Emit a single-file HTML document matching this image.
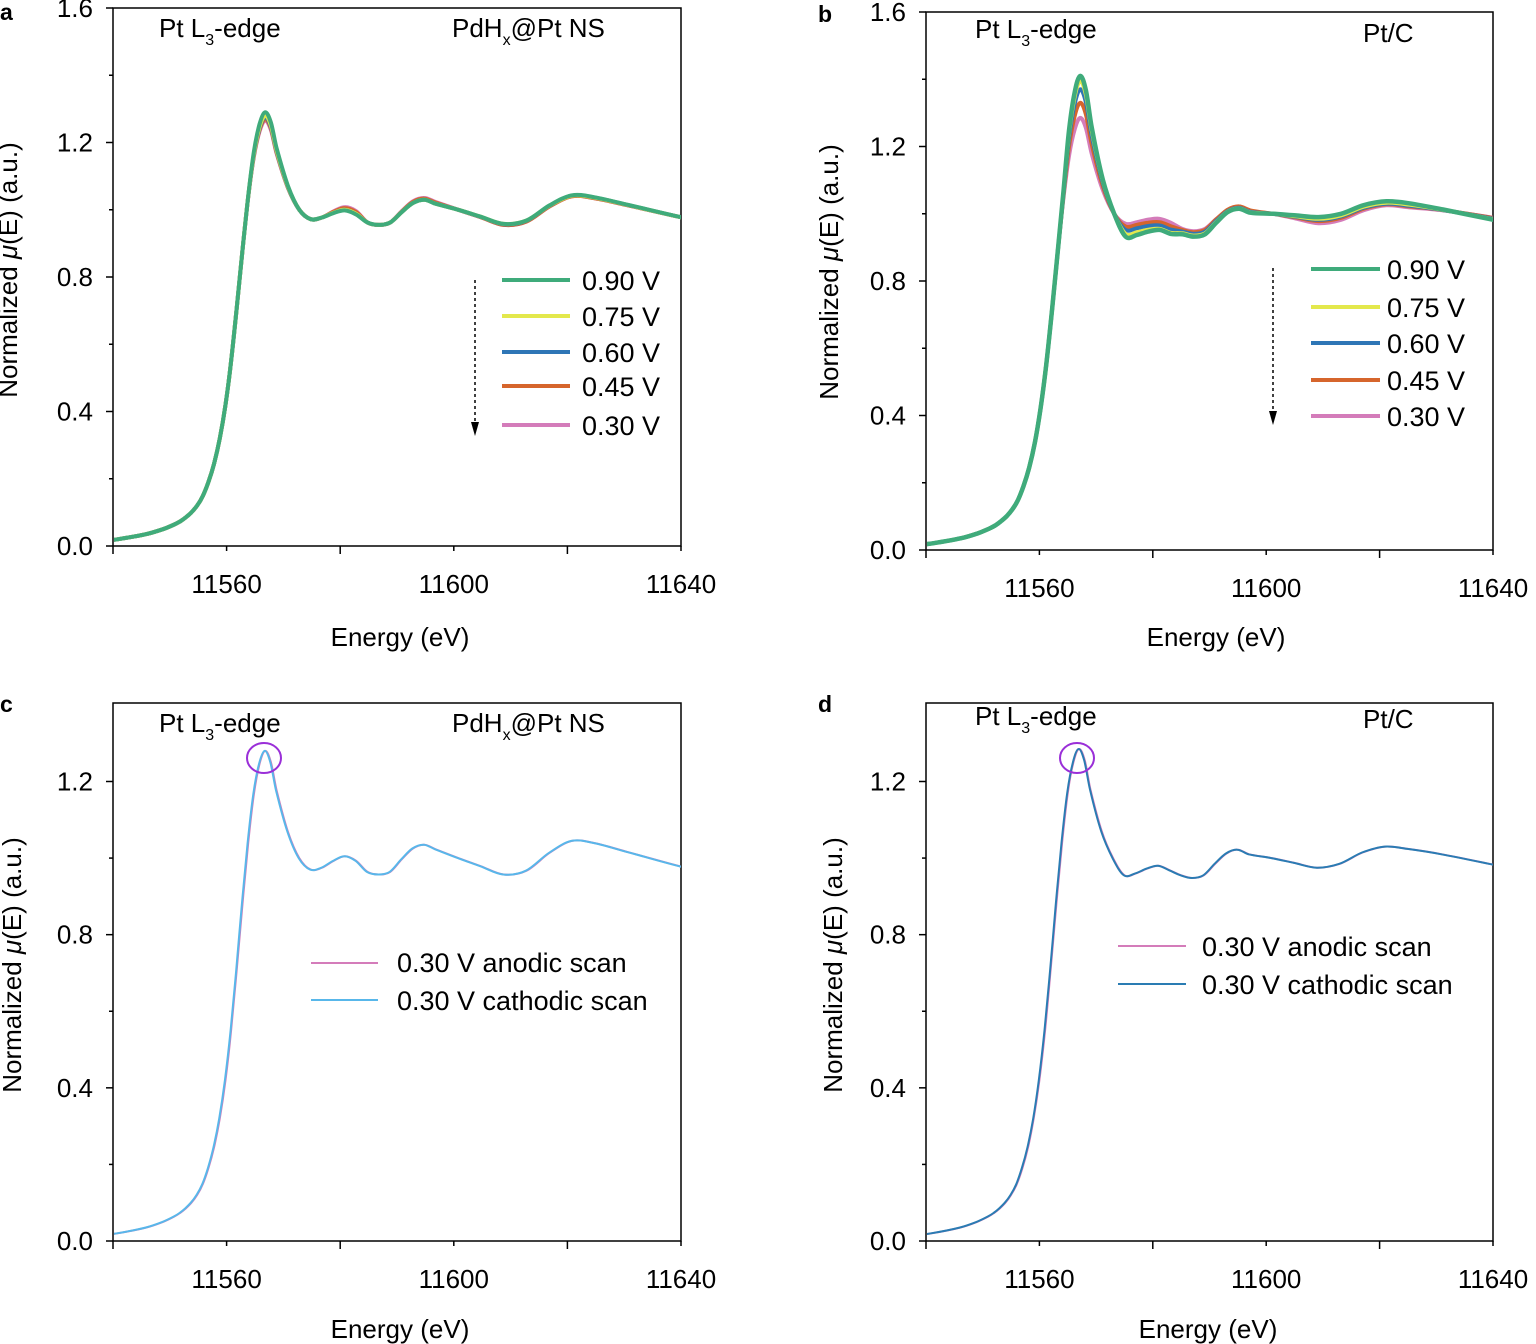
<!DOCTYPE html>
<html><head><meta charset="utf-8">
<style>
html,body{margin:0;padding:0;background:#fff;}
svg{display:block;font-family:"Liberation Sans",Arial,sans-serif;}
</style></head>
<body>
<svg id="s" width="1536" height="1344" viewBox="0 0 1536 1344" xmlns="http://www.w3.org/2000/svg">
<defs id="defs"></defs>
<g font-size="26" fill="#000">
<text x="0" y="20" font-weight="bold" font-size="23">a</text>
<text x="818" y="22" font-weight="bold" font-size="23">b</text>
<text x="0" y="712" font-weight="bold" font-size="23">c</text>
<text x="818" y="712" font-weight="bold" font-size="23">d</text>

<text x="159" y="37">Pt L<tspan font-size="16" dy="8">3</tspan><tspan dy="-8">-edge</tspan></text>
<text x="452" y="37">PdH<tspan font-size="16" dy="8">x</tspan><tspan dy="-8">@Pt NS</tspan></text>
<text x="975" y="38">Pt L<tspan font-size="16" dy="8">3</tspan><tspan dy="-8">-edge</tspan></text>
<text x="1363" y="42">Pt/C</text>
<text x="159" y="732">Pt L<tspan font-size="16" dy="8">3</tspan><tspan dy="-8">-edge</tspan></text>
<text x="452" y="732">PdH<tspan font-size="16" dy="8">x</tspan><tspan dy="-8">@Pt NS</tspan></text>
<text x="975" y="725">Pt L<tspan font-size="16" dy="8">3</tspan><tspan dy="-8">-edge</tspan></text>
<text x="1363" y="728">Pt/C</text>
</g>
<g id="axes"></g>
<g id="curves"></g>
<g id="legend" font-size="27"></g>
</svg>
<script>
var NS="http://www.w3.org/2000/svg";
function el(p,tag,attrs,txt){var e=document.createElementNS(NS,tag);for(var k in attrs)e.setAttribute(k,attrs[k]);if(txt!==undefined)e.textContent=txt;p.appendChild(e);return e;}
var AX=document.getElementById('axes'),CV=document.getElementById('curves'),LG=document.getElementById('legend'),DF=document.getElementById('defs');
var panels=[
 {x0:113,x1:681,yb:546,yt:8,ymax:1.6,ticks:[0,0.4,0.8,1.2,1.6],minor:[0.2,0.6,1.0,1.4],xl:400,xly:646,yl:17,yly:270},
 {x0:926,x1:1493,yb:550,yt:12,ymax:1.6,ticks:[0,0.4,0.8,1.2,1.6],minor:[0.2,0.6,1.0,1.4],xl:1216,xly:646,yl:838,yly:272},
 {x0:113,x1:681,yb:1241,yt:703,ymax:1.405,ticks:[0,0.4,0.8,1.2],minor:[0.2,0.6,1.0],xl:400,xly:1338,yl:21,yly:965},
 {x0:926,x1:1493,yb:1241,yt:703,ymax:1.405,ticks:[0,0.4,0.8,1.2],minor:[0.2,0.6,1.0],xl:1208,xly:1338,yl:842,yly:965}
];
panels.forEach(function(p,k){
 p.sx=function(e){return p.x0+(e-11540)/100*(p.x1-p.x0);};
 p.sy=function(v){return p.yb-v/p.ymax*(p.yb-p.yt);};
 var cp=el(DF,'clipPath',{id:'c'+k});el(cp,'rect',{x:p.x0+1,y:p.yt,width:p.x1-p.x0-1,height:p.yb-p.yt});
 p.clip='url(#c'+k+')';
 el(AX,'rect',{x:p.x0,y:p.yt,width:p.x1-p.x0,height:p.yb-p.yt,fill:'none',stroke:'#000','stroke-width':1.5});
 p.ticks.forEach(function(v){var y=p.sy(v);el(AX,'line',{x1:p.x0-7,x2:p.x0,y1:y,y2:y,stroke:'#000','stroke-width':1.5});
  el(AX,'text',{x:p.x0-20,y:y+9,'text-anchor':'end','font-size':26},v.toFixed(1));});
 p.minor.forEach(function(v){var y=p.sy(v);el(AX,'line',{x1:p.x0-4,x2:p.x0,y1:y,y2:y,stroke:'#000','stroke-width':1.5});});
 [11540,11560,11580,11600,11620,11640].forEach(function(e,i){var x=p.sx(e);el(AX,'line',{x1:x,x2:x,y1:p.yb,y2:p.yb+(i%2?5:8),stroke:'#000','stroke-width':1.5});
  if(i%2==1||i==5) el(AX,'text',{x:x,y:p.yb+47,'text-anchor':'middle','font-size':26},String(e));});
 el(AX,'text',{x:p.xl,y:p.xly,'text-anchor':'middle','font-size':26},'Energy (eV)');
 var t=el(AX,'text',{x:0,y:0,'text-anchor':'middle','font-size':26,transform:'translate('+p.yl+','+p.yly+') rotate(-90)'});
 t.innerHTML='Normalized <tspan font-style="italic">μ</tspan>(E) (a.u.)';
});
var E=[11536,11540,11545,11548,11550,11551,11552,11553,11554,11555,11556,11557,11558,11559,11560,11561,11562,11563,11564,11565,11566,11567,11568,11570,11572,11574,11576,11578,11580,11582,11584,11586,11588,11590,11592,11594,11596,11600,11604,11608,11612,11616,11620,11624,11630,11640,11645];
var A=[0.012,0.02,0.035,0.05,0.064,0.073,0.085,0.1,0.12,0.148,0.19,0.245,0.32,0.42,0.55,0.71,0.88,1.04,1.17,1.25,1.285,1.255,1.18,1.07,1.0,0.972,0.975,0.995,1.0,0.985,0.962,0.955,0.962,0.99,1.02,1.03,1.015,0.985,0.97,0.958,0.978,1.02,1.042,1.036,1.01,0.975,0.96];
function mk(pk,d1,b1,d2,p2,d3,p3,end){
 var B=A.slice();
 for(var i=0;i<E.length;i++){var e=E[i];if(e>=11563&&e<=11570){B[i]=1+(A[i]-1)*((pk-1)/0.285);}}
 var m={11574:d1,11576:d1+0.005,11578:(d1+b1)/2+0.005,11580:b1,11582:b1-0.012,11584:d2+0.007,11586:d2,11588:d2+0.007,11590:(d2+p2)/2,11592:p2-0.01,11594:p2,11596:p2-0.012,11600:1.0,11604:(1+d3)/2,11608:d3,11612:d3+0.01,11616:(d3+p3)/2+0.012,11620:p3,11624:p3-0.006,11630:(p3+end)/2+0.005,11640:end,11645:end-0.015};
 for(var i=0;i<E.length;i++){if(m[E[i]]!==undefined)B[i]=m[E[i]];}
 return B;}
function path(p,Y,shift){
 var pts=E.map(function(e,i){return [p.sx(e+(shift||0)),p.sy(Y[i])];});
 var d='M'+pts[0][0].toFixed(1)+','+pts[0][1].toFixed(1);
 for(var i=0;i<pts.length-1;i++){var p0=pts[Math.max(0,i-1)],p1=pts[i],p2=pts[i+1],p3=pts[Math.min(pts.length-1,i+2)];
  var h=p2[0]-p1[0];
  var s1=(p2[1]-p0[1])/(p2[0]-p0[0]||1),s2=(p3[1]-p1[1])/(p3[0]-p1[0]||1);
  var c1=[p1[0]+h/3,p1[1]+s1*h/3],c2=[p2[0]-h/3,p2[1]-s2*h/3];
  d+='C'+c1[0].toFixed(1)+','+c1[1].toFixed(1)+' '+c2[0].toFixed(1)+','+c2[1].toFixed(1)+' '+p2[0].toFixed(1)+','+p2[1].toFixed(1);}
 return d;}
function draw(p,Y,shift,col,w){el(CV,'path',{d:path(p,Y,shift),fill:'none',stroke:col,'stroke-width':w,'clip-path':p.clip});}
var cols=['#d47cba','#d6652c','#2e76b6','#e3e84c','#3fab7b'];
var pa=panels[0];
var aSets=[mk(1.265,0.972,1.008,0.955,1.035,0.955,1.04,0.975),mk(1.27,0.972,1.005,0.955,1.033,0.955,1.04,0.975),mk(1.275,0.972,1.0,0.955,1.03,0.957,1.042,0.975),mk(1.28,0.972,1.0,0.955,1.03,0.958,1.042,0.975),mk(1.29,0.972,0.998,0.955,1.03,0.958,1.043,0.975)];
aSets.forEach(function(Y,i){draw(pa,Y,0.8,cols[i],4);});
var pb=panels[1];
var bSets=[mk(1.285,0.97,0.985,0.948,1.02,0.972,1.025,0.985),mk(1.33,0.962,0.975,0.945,1.022,0.978,1.028,0.984),mk(1.37,0.952,0.965,0.94,1.018,0.982,1.03,0.982),mk(1.395,0.94,0.955,0.935,1.016,0.985,1.033,0.98),mk(1.41,0.932,0.952,0.932,1.015,0.99,1.037,0.978)];
bSets.forEach(function(Y,i){draw(pb,Y,1.2,cols[i],i==4?4.5:4);});
var pc=panels[2];
var cY=mk(1.28,0.97,1.005,0.957,1.035,0.957,1.045,0.975);
draw(pc,cY,0.8,'#d47cba',2);
draw(pc,cY,0.7,'#58b7ea',2);
var pd=panels[3];
var dY=mk(1.285,0.955,0.98,0.948,1.022,0.975,1.03,0.98);
draw(pd,dY,1.0,'#d47cba',2);
draw(pd,dY,0.9,'#2a7cb3',2);
el(CV,'ellipse',{cx:264,cy:758,rx:17,ry:15,fill:'none',stroke:'#9a2fd8','stroke-width':2});
el(CV,'ellipse',{cx:1077,cy:758,rx:17,ry:15,fill:'none',stroke:'#9a2fd8','stroke-width':2});
var la=[[280,'0.90 V',4],[316,'0.75 V',3],[352,'0.60 V',2],[386,'0.45 V',1],[425,'0.30 V',0]];
la.forEach(function(r){el(LG,'line',{x1:502,x2:570,y1:r[0],y2:r[0],stroke:cols[r[2]],'stroke-width':4});el(LG,'text',{x:582,y:r[0]+10},r[1]);});
var lb=[[269,'0.90 V',4],[307,'0.75 V',3],[343,'0.60 V',2],[380,'0.45 V',1],[416,'0.30 V',0]];
lb.forEach(function(r){el(LG,'line',{x1:1311,x2:1380,y1:r[0],y2:r[0],stroke:cols[r[2]],'stroke-width':4});el(LG,'text',{x:1387,y:r[0]+10},r[1]);});
el(LG,'line',{x1:475,x2:475,y1:280,y2:424,stroke:'#000','stroke-width':1.5,'stroke-dasharray':'3,3'});
el(LG,'polygon',{points:'471,422 479,422 475,436',fill:'#000'});
el(LG,'line',{x1:1273,x2:1273,y1:268,y2:413,stroke:'#000','stroke-width':1.5,'stroke-dasharray':'3,3'});
el(LG,'polygon',{points:'1269,411 1277,411 1273,425',fill:'#000'});
el(LG,'line',{x1:311,x2:378,y1:963,y2:963,stroke:'#d47cba','stroke-width':2});
el(LG,'text',{x:397,y:972},'0.30 V anodic scan');
el(LG,'line',{x1:311,x2:378,y1:1000,y2:1000,stroke:'#58b7ea','stroke-width':2});
el(LG,'text',{x:397,y:1010},'0.30 V cathodic scan');
el(LG,'line',{x1:1118,x2:1186,y1:946,y2:946,stroke:'#d47cba','stroke-width':2});
el(LG,'text',{x:1202,y:956},'0.30 V anodic scan');
el(LG,'line',{x1:1118,x2:1186,y1:984,y2:984,stroke:'#2a7cb3','stroke-width':2});
el(LG,'text',{x:1202,y:994},'0.30 V cathodic scan');
</script>
</body></html>
